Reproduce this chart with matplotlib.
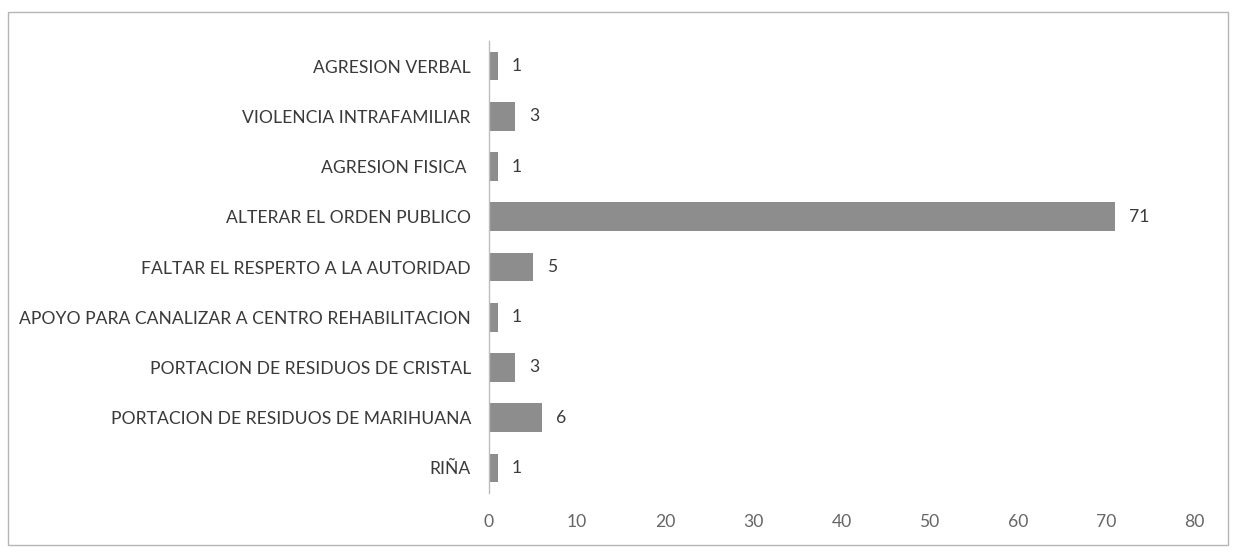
import matplotlib
matplotlib.use("Agg")
import matplotlib.pyplot as plt
from matplotlib.patches import Rectangle
from matplotlib.textpath import TextPath
from matplotlib.font_manager import FontProperties

categories = [
    "AGRESION VERBAL",
    "VIOLENCIA INTRAFAMILIAR",
    "AGRESION FISICA ",
    "ALTERAR EL ORDEN PUBLICO",
    "FALTAR EL RESPERTO A LA AUTORIDAD",
    "APOYO PARA CANALIZAR A CENTRO REHABILITACION",
    "PORTACION DE RESIDUOS DE CRISTAL",
    "PORTACION DE RESIDUOS DE MARIHUANA",
    "RIÑA",
]
values = [1, 3, 1, 71, 5, 1, 3, 6, 1]
xticks = [0, 10, 20, 30, 40, 50, 60, 70, 80]

FAMILY = ['Lato', 'DejaVu Sans']
plt.rcParams['font.family'] = FAMILY

# fit the longest label to ~450 px wide (reference)
fp = FontProperties(family=FAMILY, size=10)
w10 = TextPath((0, 0), max(categories, key=len), prop=fp).get_extents().width  # points at size 10
label_size = 10 * (450 * 72 / 100) / w10

fig = plt.figure(figsize=(12.36, 5.56), dpi=100)
ax = fig.add_axes([489/1236, 1-493/556, (1194-489)/1236, (493-41)/556])

ypos = list(range(len(categories)))
ax.barh(ypos, values, height=0.57, color="#8d8d8d", edgecolor="none")
ax.set_ylim(len(categories)-0.5, -0.5)
ax.set_xlim(0, 80)
ax.set_xticks(xticks)
ax.set_xticklabels([str(t) for t in xticks], fontsize=label_size, color="#666666")
ax.set_yticks(ypos)
ax.set_yticklabels(categories, fontsize=label_size, color="#3a3a3a")
ax.tick_params(axis='both', length=0)
ax.tick_params(axis='x', pad=15)
ax.tick_params(axis='y', pad=13)
for s in ['top', 'right', 'bottom']:
    ax.spines[s].set_visible(False)
ax.spines['left'].set_color("#bdbdbd")
ax.spines['left'].set_linewidth(1.0)

for y, v in zip(ypos, values):
    ax.annotate(str(v), (v, y), xytext=(10, 0), textcoords='offset points',
                va='center', ha='left', fontsize=label_size, color="#3a3a3a")

fig.patches.append(Rectangle((8/1236, 1-545/556), (1228-8)/1236, (545-12)/556,
                             transform=fig.transFigure, fill=False,
                             edgecolor="#b5b5b5", linewidth=1.0))

fig.savefig("out.png", dpi=100, facecolor="white")
